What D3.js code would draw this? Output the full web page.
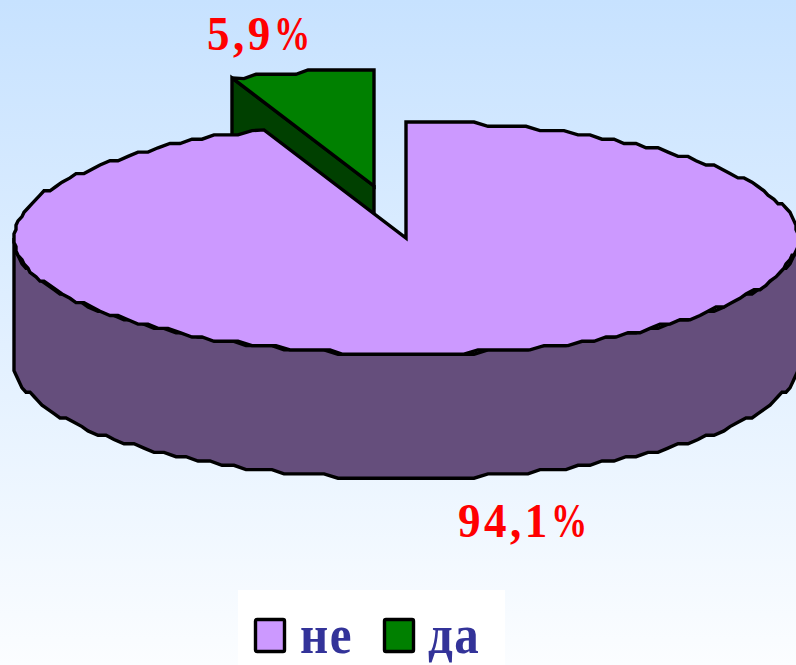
<!DOCTYPE html>
<html><head><meta charset="utf-8">
<style>html,body{margin:0;padding:0;overflow:hidden;background:#fff}svg{display:block}</style>
<script src="https://cdn.jsdelivr.net/npm/d3@7"></script>
</head><body>
<script>
const categories = ["не", "да"];
const values = [94.1, 5.9];
const valueLabels = ["94,1", "5,9"];
const colors = ["#cc99ff", "#008000"];
const sideColors = ["#654e7c", "#004000"];

const W = 796, H = 665;
const cx = 406, cy = 238, rx = 392, ry = 116, depth = 124;
const explode = {x: -32, y: -52};
const step = 4.3;

const svg = d3.select("body").append("svg").attr("width", W).attr("height", H);
const defs = svg.append("defs");
const grad = defs.append("linearGradient").attr("id", "bg").attr("x1", 0).attr("y1", 0).attr("x2", 0).attr("y2", 1);
grad.append("stop").attr("offset", "0").attr("stop-color", "#c7e2ff");
grad.append("stop").attr("offset", "1").attr("stop-color", "#fbfdff");
svg.append("rect").attr("width", W).attr("height", H).attr("fill", "url(#bg)");

const arcs = d3.pie().sort(null).value(d => d)(values);
const sx = d3.scaleLinear().domain([-1, 1]).range([cx - rx, cx + rx]);
const sy = d3.scaleLinear().domain([-1, 1]).range([cy + ry, cy - ry]);

// Coarse polyline of the rim, as the low-resolution original has
function rim(a0, a1, ox, oy) {
  const n = Math.max(2, Math.ceil(Math.abs(a1 - a0) / (Math.PI / 90)));
  const pts = d3.range(n + 1).map(i => {
    const a = a0 + (a1 - a0) * i / n;
    const rel = Math.round((sy(Math.cos(a)) - (cy - ry)) / step) * step;
    const x = (i === 0 || i === n) ? sx(Math.sin(a)) : Math.round(sx(Math.sin(a)) / 2) * 2;
    const y = (i === 0 || i === n) ? sy(Math.cos(a)) : cy - ry + rel;
    return [x + ox, y + oy];
  });
  return pts;
}
const line = d3.line();
const style = s => s.attr("stroke", "#000").attr("stroke-width", 3.4).attr("stroke-linejoin", "miter").attr("stroke-miterlimit", 3);

// Detached slice
const g = arcs[1];
const gc = [cx + explode.x, cy + explode.y];
const gRim = rim(g.startAngle, g.endAngle, explode.x, explode.y);
const gLeft = gRim[0];
// the cut wall
style(svg.append("path")
  .attr("d", line([gc, gLeft, [gLeft[0], gLeft[1] + depth], [gc[0], gc[1] + depth]]) + "Z")
  .attr("fill", sideColors[1]));
style(svg.append("path")
  .attr("d", line([gc, ...gRim]) + "Z")
  .attr("fill", colors[1]));

// Main slice side wall: visible lower half of the rim
const p = arcs[0];
const front = rim(Math.PI / 2, 3 * Math.PI / 2, 0, 0);
style(svg.append("path")
  .attr("d", line([...front, ...front.slice().reverse().map(d => [d[0], d[1] + depth])]) + "Z")
  .attr("fill", sideColors[0]));
// Main slice top
style(svg.append("path")
  .attr("d", line([[cx, cy], ...rim(p.startAngle, p.endAngle, 0, 0)]) + "Z")
  .attr("fill", colors[0]));

// Value labels: number plus a condensed percent sign
const labelFont = "'Liberation Serif','Times New Roman',serif";
const labelPos = [[458, 537, 551], [207, 50, 274]];
valueLabels.forEach((t, i) => {
  const txt = () => svg.append("text")
    .attr("font-family", labelFont).attr("font-weight", "bold")
    .attr("font-size", 49).attr("fill", "#ff0000");
  txt().attr("transform", `translate(${labelPos[i][0]},${labelPos[i][1]}) scale(0.92,1)`).attr("letter-spacing", 3.8).text(t);
  txt().attr("transform", `translate(${labelPos[i][2]},${labelPos[i][1]}) scale(0.74,1)`).text("%");
});

// Legend
svg.append("rect").attr("x", 238).attr("y", 590).attr("width", 267).attr("height", 75).attr("fill", "#fff");
const swatchX = [255.5, 384.5], textX = [300, 428];
categories.forEach((c, i) => {
  svg.append("rect").attr("x", swatchX[i]).attr("y", 619.5).attr("width", 29).attr("height", 32)
    .attr("rx", 1.5).attr("fill", colors[i]).attr("stroke", "#000").attr("stroke-width", 3.4);
  svg.append("text").attr("transform", `translate(${textX[i]},653) scale(1,1.1)`)
    .attr("font-family", labelFont).attr("font-weight", "bold")
    .attr("font-size", 49).attr("letter-spacing", 1.5).attr("fill", "#333399").text(c);
});
</script>
</body></html>
